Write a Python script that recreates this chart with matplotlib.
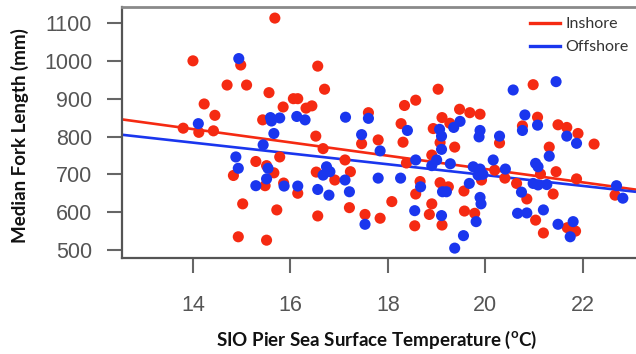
import matplotlib
matplotlib.use("Agg")
import matplotlib.pyplot as plt
from matplotlib.lines import Line2D

# ---------------- data ----------------
inshore_temp = [15.68, 14.00, 14.98, 16.56, 14.70, 15.10, 16.70, 15.56, 16.06, 16.15,
                14.23, 15.85, 16.32, 16.44, 14.45, 13.80, 14.12, 14.42, 15.43, 16.52,
                16.67, 15.29, 15.51, 15.78, 15.66, 14.83, 15.48, 16.15, 16.53, 15.02,
                15.72, 16.56, 14.93, 15.51, 19.03, 18.57, 18.34, 17.60, 18.27, 19.47,
                19.68, 19.89, 19.11, 19.27, 18.93, 17.46, 17.80, 18.31, 19.07, 19.37,
                20.29, 20.98, 21.07, 20.76, 21.49, 21.67, 21.90, 22.23, 21.31, 17.12,
                17.23, 16.91, 18.38, 18.90, 20.19, 20.40, 19.92, 21.13, 21.45, 21.87,
                17.21, 18.66, 18.57, 19.07, 19.24, 19.56, 18.08, 17.53, 17.84, 18.90,
                18.85, 19.11, 18.55, 19.57, 19.78, 20.64, 20.85, 21.39, 21.03, 21.19,
                21.68, 21.85, 22.66, 15.86]
inshore_len = [1113, 1000, 989, 986, 936, 936, 925, 916, 900, 900,
               886, 878, 875, 881, 856, 822, 811, 815, 844, 801,
               768, 734, 723, 746, 704, 697, 670, 650, 706, 622,
               606, 590, 535, 526, 925, 896, 882, 863, 834, 872,
               863, 859, 850, 835, 821, 781, 791, 785, 784, 772,
               783, 937, 851, 828, 831, 824, 808, 780, 772, 738,
               707, 685, 730, 751, 711, 690, 685, 701, 707, 688,
               612, 681, 648, 678, 667, 656, 628, 594, 584, 622,
               594, 566, 564, 603, 597, 676, 635, 648, 579, 545,
               559, 550, 645, 677]

offshore_temp = [14.94, 14.11, 15.59, 15.61, 15.78, 16.13, 16.30, 15.66, 15.44, 14.88,
                 14.93, 15.54, 15.51, 15.29, 15.87, 16.15, 16.56, 16.67, 16.74, 16.79,
                 17.13, 17.60, 18.40, 17.46, 19.48, 19.35, 19.06, 19.10, 19.10, 17.84,
                 19.89, 19.87, 20.29, 20.57, 21.45, 20.81, 21.07, 20.76, 21.67, 21.87,
                 21.31, 18.57, 19.00, 18.90, 19.28, 20.16, 20.41, 21.03, 21.08, 19.89,
                 19.95, 19.85, 19.75, 16.81, 17.12, 17.21, 17.80, 18.26, 18.67, 19.12,
                 19.20, 19.67, 18.55, 17.53, 19.10, 19.81, 19.55, 19.37, 19.89, 19.91,
                 20.74, 20.98, 21.08, 21.26, 20.66, 20.85, 21.19, 21.49, 21.80, 21.74,
                 22.69, 22.82]
offshore_len = [1006, 834, 850, 841, 849, 853, 844, 808, 778, 746,
                716, 716, 688, 670, 669, 669, 660, 698, 720, 645,
                851, 848, 816, 805, 840, 824, 819, 801, 766, 762,
                816, 799, 801, 923, 945, 857, 830, 816, 801, 782,
                748, 738, 738, 723, 728, 738, 714, 729, 720, 714,
                700, 698, 720, 707, 685, 654, 690, 690, 667, 654,
                654, 676, 604, 568, 591, 575, 538, 505, 639, 622,
                653, 676, 672, 673, 597, 598, 606, 568, 575, 535,
                670, 637]

# fitted regression lines (intercept, slope)
inshore_fit = (1066.0, -17.6)
offshore_fit = (984.0, -14.3)

series_names = ["Inshore", "Offshore"]
x_ticks = [14, 16, 18, 20, 22]
y_ticks = [500, 600, 700, 800, 900, 1000, 1100]

# ---------------- styling ----------------
RED = "#f52a12"
BLUE = "#1a36ee"
plt.rcParams["mathtext.fontset"] = "custom"
plt.rcParams["mathtext.rm"] = "Lato:bold"

W, H = 636, 354
fig = plt.figure(figsize=(W / 100, H / 100), dpi=100)
ax = fig.add_axes([122 / W, 1 - 258 / H, 514 / W, 251 / H])

xlim = (12.544, 23.09)
ylim = (478.9, 1142.3)
ax.set_xlim(*xlim)
ax.set_ylim(*ylim)

# regression lines
for (b0, b1), col in [(inshore_fit, RED), (offshore_fit, BLUE)]:
    xs = list(xlim)
    ax.plot(xs, [b0 + b1 * v for v in xs], color=col, lw=1.9, zorder=2,
            solid_capstyle="butt")

ax.scatter(inshore_temp, inshore_len, s=64, color=RED, edgecolors="none", zorder=3)
ax.scatter(offshore_temp, offshore_len, s=64, color=BLUE, edgecolors="none", zorder=4)

for side in ["left", "bottom", "top"]:
    ax.spines[side].set_color("#555555")
    ax.spines[side].set_linewidth(1.6)
ax.spines["top"].set_color("#8a8a8a")
ax.spines["top"].set_linewidth(2.0)
ax.spines["right"].set_visible(False)

ax.set_xticks(x_ticks)
ax.set_yticks(y_ticks)
ax.tick_params(axis="both", direction="out", length=10.5, width=1.5,
               color="#666666", labelcolor="#555555", labelsize=15.5)
ax.tick_params(axis="x", pad=16)
ax.tick_params(axis="y", pad=11)
for lab in ax.get_xticklabels() + ax.get_yticklabels():
    lab.set_family("Liberation Sans")

fig.text(377 / W, 1 - 340 / H, "SIO Pier Sea Surface Temperature ($^{\\mathrm{o}}$C)",
         family="Lato", weight="bold", fontsize=13.5, ha="center", va="center",
         color="#111111")
fig.text(20 / W, 1 - 136 / H, "Median Fork Length (mm)", rotation=90,
         family="Lato", weight="bold", fontsize=13.5, ha="center", va="center",
         color="#111111")

handles = [Line2D([], [], color=RED, lw=2.4), Line2D([], [], color=BLUE, lw=2.4)]
leg = ax.legend(handles, series_names, loc="upper left",
                bbox_to_anchor=(530 / W, 1 - 17 / H), bbox_transform=fig.transFigure,
                frameon=False, fontsize=11.5, handlelength=1.9, handletextpad=0.3,
                labelspacing=0.55, borderpad=0, borderaxespad=0,
                prop={"family": "Lato", "size": 11.5})
for t in leg.get_texts():
    t.set_color("#333333")

fig.savefig("out.png", dpi=100)
